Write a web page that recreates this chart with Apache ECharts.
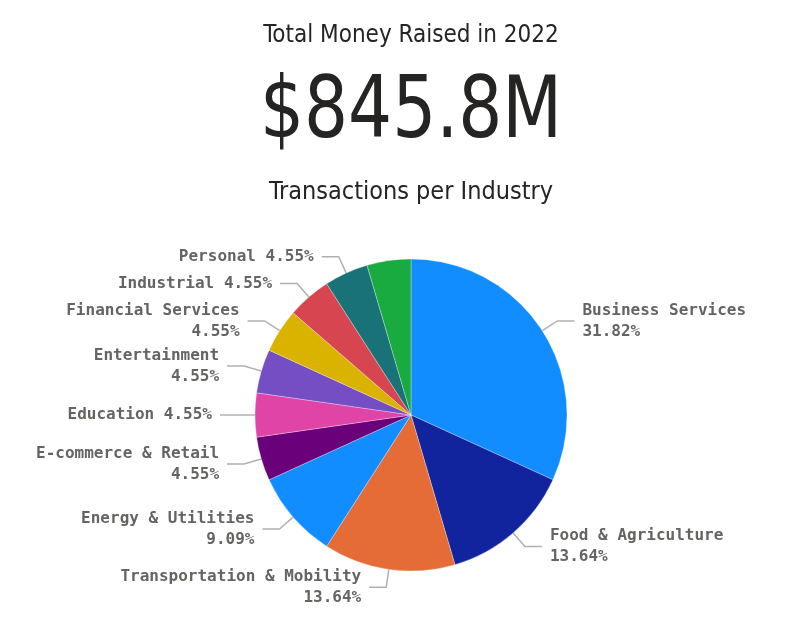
<!DOCTYPE html>
<html>
<head>
<meta charset="utf-8">
<script src="https://cdn.jsdelivr.net/npm/echarts@6/dist/echarts.min.js"></script>
<style>
  html, body { margin: 0; padding: 0; background: #fff; }
  #main { width: 800px; height: 628px; }
</style>
</head>
<body>
<div id="main"></div>
<script>
// values
var industries = ['Business Services', 'Food & Agriculture', 'Transportation & Mobility', 'Energy & Utilities',
    'E-commerce & Retail', 'Education', 'Entertainment', 'Financial Services', 'Industrial', 'Personal', 'Other'];
var transactions = [7, 3, 3, 2, 1, 1, 1, 1, 1, 1, 1];
var sliceColors = ['#118DFF', '#12239E', '#E66C37', '#118DFF', '#6B007B', '#E044A7',
    '#744EC2', '#D9B300', '#D64550', '#197278', '#1AAB40'];
var oneLine = ['Education', 'Industrial', 'Personal'];   // labels not wrapped
var noLabel = ['Other'];
var headline = 'Total Money Raised in 2022';
var total = '$845.8M';
var subtitle = 'Transactions per Industry';

var myChart = echarts.init(document.getElementById('main'));

var data = industries.map(function (name, i) {
    return {
        name: name,
        value: transactions[i],
        itemStyle: { color: sliceColors[i] },
        label: { show: noLabel.indexOf(name) < 0 },
        labelLine: { show: noLabel.indexOf(name) < 0 }
    };
});

var titleFont = "'DejaVu Sans Condensed', 'DejaVu Sans', sans-serif";

var option = {
    backgroundColor: '#fff',
    animation: false,
    graphic: [
        { type: 'text', x: 411, y: 36, style: { text: headline, fill: '#252423', font: '24px ' + titleFont, textAlign: 'center', textVerticalAlign: 'middle' } },
        { type: 'text', x: 411, y: 115, scaleY: 1.12, style: { text: total, fill: '#252423', font: '77px ' + titleFont, textAlign: 'center', textVerticalAlign: 'middle' } },
        { type: 'text', x: 411, y: 192, style: { text: subtitle, fill: '#252423', font: '25px ' + titleFont, textAlign: 'center', textVerticalAlign: 'middle' } }
    ],
    series: [
        {
            type: 'pie',
            center: [411, 415],
            radius: 156,
            startAngle: 90,
            clockwise: true,
            data: data,
            itemStyle: { borderColor: '#fff', borderWidth: 0.3 },
            label: {
                fontFamily: "'DejaVu Sans Mono', monospace",
                fontSize: 16,
                fontWeight: 'bold',
                lineHeight: 21,
                color: '#666461',
                distanceToLabelLine: 8,
                formatter: function (p) {
                    var pct = (p.value / 22 * 100).toFixed(2) + '%';
                    return oneLine.indexOf(p.name) >= 0 ? p.name + ' ' + pct : p.name + '\n' + pct;
                }
            },
            labelLine: {
                length: 18,
                length2: 17,
                lineStyle: { color: '#B3B0AD', width: 1.5 }
            }
        }
    ]
};

myChart.setOption(option);
</script>
</body>
</html>
